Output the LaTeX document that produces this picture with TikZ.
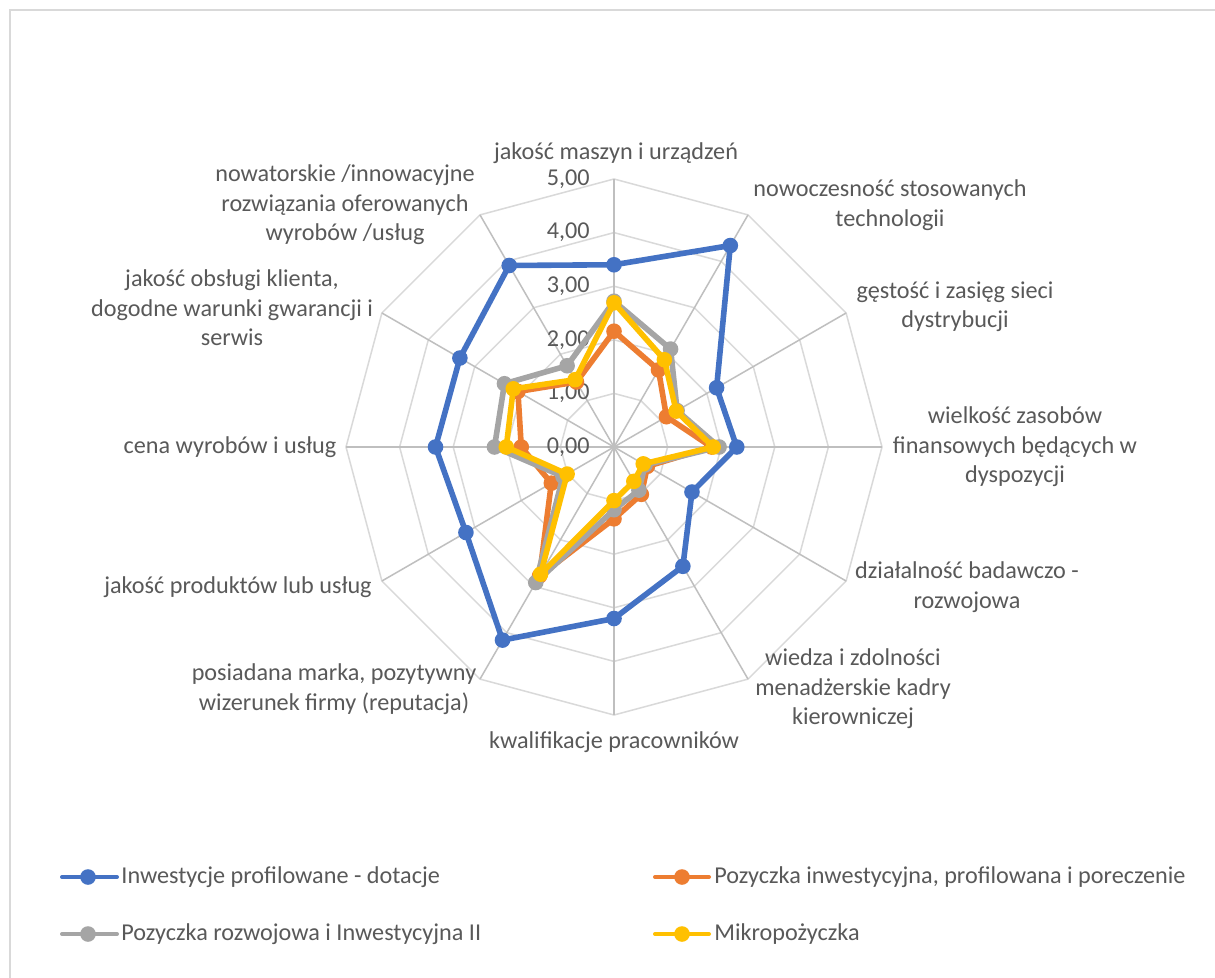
\documentclass[tikz,border=0pt]{standalone}
\usepackage{fontspec}
\setmainfont{Carlito}
\definecolor{sblue}{HTML}{4472C4}
\definecolor{sorange}{HTML}{ED7D31}
\definecolor{sgray}{HTML}{A5A5A5}
\definecolor{syellow}{HTML}{FFC000}
\definecolor{ringc}{HTML}{D9D9D9}
\definecolor{spokec}{HTML}{BFBFBF}
\definecolor{txt}{HTML}{595959}
\newcommand{\radarseries}[3]{%
  \foreach \v [count=\i from 0] in {#3} {
    \coordinate (#1\i) at ({614+53.6*\v*sin(30*\i)}, {447-53.6*\v*cos(30*\i)});
  }
  \draw[serline, draw=#2] (#10) \foreach \i in {1,...,11} { -- (#1\i) } -- cycle;
  \foreach \i in {0,...,11} { \node[dot=#2] (m#1\i) at (#1\i) {}; }
}
\begin{document}
\begin{tikzpicture}[x=0.5pt,y=-0.5pt,
  lbl/.style={text=txt, font=\fontsize{12.1}{14.7}\selectfont, align=center, inner sep=0pt},
  ticklbl/.style={text=txt, font=\fontsize{12.1}{14.7}\selectfont, anchor=east, inner sep=0pt},
  leg/.style={text=txt, font=\fontsize{12.1}{14.7}\selectfont, anchor=west, inner sep=0pt},
  serline/.style={line width=2.8pt, line join=round},
  legline/.style={line width=2pt, line cap=round},
  dot/.style={circle, fill=#1, draw=none, inner sep=0pt, minimum size=7.8pt},
  ringline/.style={draw=ringc, line width=0.75pt},
  spokeline/.style={draw=spokec, line width=0.75pt}]
\path[use as bounding box] (0,0) rectangle (1215,978);
\fill[white] (0,0) rectangle (1215,978);
% frame
\coordinate (f1) at (10,990);
\coordinate (f2) at (10,10);
\coordinate (f3) at (1225,10);
\draw[draw=ringc, line width=0.9pt] (f1) -- (f2) -- (f3);
% grid
\coordinate (c) at (614,447);
\foreach \k in {1,...,5} {
  \foreach \i in {0,...,11} {
    \coordinate (g\k-\i) at ({614+53.6*\k*sin(30*\i)}, {447-53.6*\k*cos(30*\i)});
  }
  \draw[ringline] (g\k-0) \foreach \i in {1,...,11} { -- (g\k-\i) } -- cycle;
}
\foreach \i in {0,...,11} { \draw[spokeline] (c) -- (g5-\i); }
% tick labels
\foreach \k in {0,...,5} {
  \node[ticklbl] (t\k) at (590,{447-53.6*\k}) {\k,00};
}
% series
\radarseries{b}{sblue}{3.40,4.34,2.21,2.29,1.68,2.57,3.20,4.16,3.19,3.33,3.32,3.91}
\radarseries{o}{sorange}{2.16,1.66,1.13,1.82,0.72,1.02,1.34,2.78,1.35,1.73,2.07,1.40}
\radarseries{g}{sgray}{2.72,2.11,1.36,1.96,0.67,0.93,1.17,2.92,1.10,2.23,2.36,1.75}
\radarseries{y}{syellow}{2.69,1.88,1.34,1.85,0.63,0.74,1.00,2.74,1.01,2.01,2.17,1.45}
% category labels
\node[lbl] (L0) at (616,153) {jakość maszyn i urządzeń};
\node[lbl] (L1) at (890,205) {nowoczesność stosowanych\\technologii};
\node[lbl] (L2) at (955,307) {gęstość i zasięg sieci\\dystrybucji};
\node[lbl] (L3) at (1015,447) {wielkość zasobów\\finansowych będących w\\dyspozycji};
\node[lbl] (L4) at (967,587) {działalność badawczo -\\rozwojowa};
\node[lbl] (L5) at (853,689) {wiedza i zdolności\\menadżerskie kadry\\kierowniczej};
\node[lbl] (L6) at (614,742) {kwalifikacje pracowników};
\node[lbl] (L7) at (334,689) {posiadana marka, pozytywny\\wizerunek firmy (reputacja)};
\node[lbl] (L8) at (238,587) {jakość produktów lub usług};
\node[lbl] (L9) at (230,447) {cena wyrobów i usług};
\node[lbl] (L10) at (232,308) {jakość obsługi klienta,\\dogodne warunki gwarancji i\\serwis};
\node[lbl] (L11) at (345,205) {nowatorskie /innowacyjne\\rozwiązania oferowanych\\wyrobów /usług};
% legend
\coordinate (lb1) at (62,877); \coordinate (lb2) at (117,877);
\draw[legline, sblue] (lb1) -- (lb2);
\node[dot=sblue] (lbm) at (88,877) {};
\node[leg] (lbt) at (121,877) {Inwestycje profilowane - dotacje};
\coordinate (lo1) at (655,877); \coordinate (lo2) at (709,877);
\draw[legline, sorange] (lo1) -- (lo2);
\node[dot=sorange] (lom) at (682,877) {};
\node[leg] (lot) at (714,877) {Pozyczka inwestycyjna, profilowana i poreczenie};
\coordinate (lg1) at (62,934); \coordinate (lg2) at (117,934);
\draw[legline, sgray] (lg1) -- (lg2);
\node[dot=sgray] (lgm) at (88,934) {};
\node[leg] (lgt) at (121,934) {Pozyczka rozwojowa i Inwestycyjna II};
\coordinate (ly1) at (655,934); \coordinate (ly2) at (709,934);
\draw[legline, syellow] (ly1) -- (ly2);
\node[dot=syellow] (lym) at (682,934) {};
\node[leg] (lyt) at (714,934) {Mikropożyczka};
\end{tikzpicture}
\end{document}
